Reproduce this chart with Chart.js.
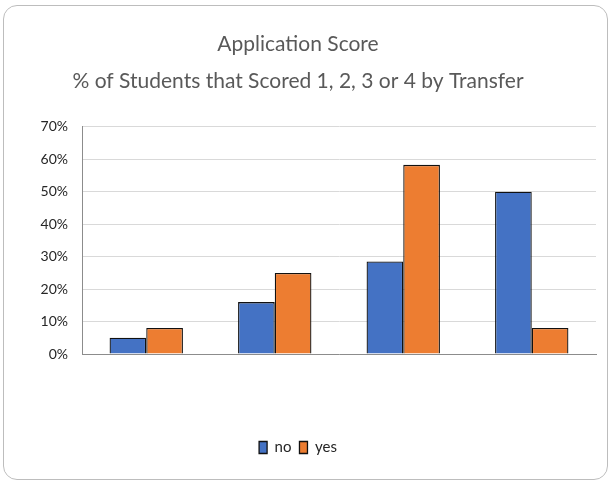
<!DOCTYPE html>
<html>
<head>
<meta charset="utf-8">
<script src="https://cdn.jsdelivr.net/npm/chart.js@4/dist/chart.umd.min.js"></script>
<style>
  html, body { margin: 0; padding: 0; background: #fff; }
  #wrap { position: relative; width: 610px; height: 483px; }
  #frame { position: absolute; left: 3px; top: 5px; width: 603px; height: 473px;
           border: 1px solid #bdbdbd; border-radius: 14px; pointer-events: none; }
  canvas { position: absolute; left: 0; top: 0; }
</style>
</head>
<body>
<div id="wrap">
  <canvas id="c" width="610" height="483"></canvas>
  <div id="frame"></div>
</div>
<script>
const categories = ['1', '2', '3', '4'];
const noValues = [5, 16, 28.5, 50];
const yesValues = [8, 25, 58.3, 8];
const titleLines = ['Application Score', '% of Students that Scored 1, 2, 3 or 4 by Transfer'];
const seriesNames = ['no', 'yes'];

const FONT = "Lato, 'Liberation Sans', sans-serif";

new Chart(document.getElementById('c'), {
  type: 'bar',
  data: {
    labels: categories,
    datasets: [
      { label: seriesNames[0], data: noValues, backgroundColor: '#4472C4', borderColor: '#111', borderWidth: 1.3 },
      { label: seriesNames[1], data: yesValues, backgroundColor: '#ED7D31', borderColor: '#111', borderWidth: 1.3 }
    ]
  },
  options: {
    responsive: false,
    animation: false,
    layout: { padding: { left: 0, right: 14, top: 26, bottom: 18 } },
    datasets: { bar: { categoryPercentage: 0.571, barPercentage: 1 } },
    plugins: {
      title: {
        display: true,
        text: titleLines,
        color: '#595959',
        font: { family: FONT, size: 21, weight: 'normal', lineHeight: 1.76 },
        padding: { top: 0, bottom: 27 }
      },
      legend: {
        position: 'bottom',
        labels: {
          color: '#262626',
          font: { family: FONT, size: 15 },
          boxWidth: 8,
          boxHeight: 12,
          padding: 8
        }
      },
      tooltip: { enabled: false }
    },
    scales: {
      x: {
        grid: { display: false },
        ticks: { display: false },
        border: { display: true, color: '#8c8c8c', width: 1 },
        afterFit: (s) => { s.height = 78; }
      },
      y: {
        min: 0, max: 70,
        ticks: {
          stepSize: 10,
          color: '#262626',
          padding: 14,
          font: { family: FONT, size: 14 },
          callback: (v) => v + '%'
        },
        grid: { color: '#d9d9d9', drawTicks: false },
        border: { display: true, color: '#8c8c8c', width: 1 },
        afterFit: (s) => { s.width = 82; }
      }
    }
  }
});
</script>
</body>
</html>
